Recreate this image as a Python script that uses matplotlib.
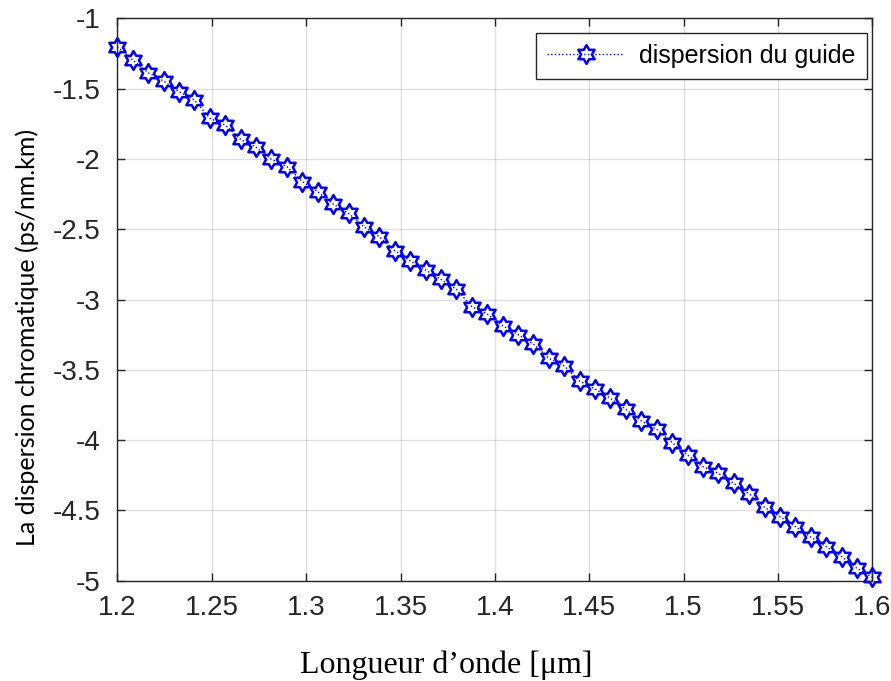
import numpy as np
import matplotlib
matplotlib.use('Agg')
import matplotlib.pyplot as plt
from matplotlib.path import Path

# --- données ---
longueur_onde_um = np.linspace(1.2, 1.6, 50)
dispersion_guide = [
    -1.202, -1.297, -1.387, -1.446, -1.522, -1.581, -1.711, -1.759, -1.861, -1.917,
    -2.003, -2.055, -2.161, -2.233, -2.321, -2.387, -2.482, -2.553, -2.653, -2.724,
    -2.790, -2.856, -2.927, -3.051, -3.103, -3.186, -3.249, -3.317, -3.418, -3.473,
    -3.580, -3.637, -3.703, -3.781, -3.864, -3.923, -4.018, -4.106, -4.189, -4.236,
    -4.307, -4.383, -4.478, -4.545, -4.616, -4.691, -4.758, -4.829, -4.912, -4.976,
]
x_ticks = [1.2, 1.25, 1.3, 1.35, 1.4, 1.45, 1.5, 1.55, 1.6]
x_tick_labels = ['1.2', '1.25', '1.3', '1.35', '1.4', '1.45', '1.5', '1.55', '1.6']
y_ticks = [-5, -4.5, -4, -3.5, -3, -2.5, -2, -1.5, -1]
y_tick_labels = ['-5', '-4.5', '-4', '-3.5', '-3', '-2.5', '-2', '-1.5', '-1']

plt.rcParams['font.family'] = ['Liberation Sans', 'DejaVu Sans']

# marqueur hexagramme (comme le 'h' de MATLAB)
ang = np.deg2rad(90 + 30 * np.arange(12))
rad = np.where(np.arange(12) % 2 == 0, 1.0, 1 / np.sqrt(3))
verts = np.column_stack([rad * np.cos(ang), rad * np.sin(ang)])
verts = np.vstack([verts, verts[:1]])
hexagram = Path(verts, closed=True)

gris = (0.15, 0.15, 0.15)

fig = plt.figure(figsize=(8.91, 6.81), dpi=100)
ax = fig.add_axes([0.1317, 0.1473, 0.8475, 0.8258])

ax.plot(longueur_onde_um, dispersion_guide, color='blue', linestyle=':', linewidth=1.0,
        marker=hexagram, markersize=13.5, markerfacecolor='none',
        markeredgecolor='blue', markeredgewidth=1.8, label='dispersion du guide',
        clip_on=False, zorder=3)

ax.set_xlim(1.2, 1.6)
ax.set_ylim(-5, -1)
ax.set_xticks(x_ticks)
ax.set_xticklabels(x_tick_labels)
ax.set_yticks(y_ticks)
ax.set_yticklabels(y_tick_labels)

ax.grid(True, color=gris, alpha=0.15, linewidth=1.0)
ax.tick_params(direction='in', length=6, width=1.0, colors=gris, labelsize=20,
               top=True, right=True)
ax.tick_params(axis='x', pad=10)
ax.tick_params(axis='y', pad=12)
for sp in ax.spines.values():
    sp.set_color(gris)
    sp.set_linewidth(1.0)

ax.set_xlabel('Longueur d\u2019onde [\u03bcm]', family=['Liberation Serif', 'DejaVu Serif'],
              fontsize=23, color='black', va='center')
ax.xaxis.set_label_coords(0.435, -0.15)
ax.set_ylabel('La dispersion chromatique (ps/nm.km)', family=['Lato', 'DejaVu Sans'],
              fontsize=18, color='black', va='center')
ax.yaxis.set_label_coords(-0.119, 0.432)

leg = ax.legend(loc='upper right', bbox_to_anchor=(0.9927, 0.974), fontsize=18,
                fancybox=False, framealpha=1, edgecolor=gris, handlelength=3.1,
                handletextpad=0.6, borderaxespad=0, borderpad=0.45)
leg.get_frame().set_linewidth(1.0)

fig.savefig('out.png', dpi=100)
